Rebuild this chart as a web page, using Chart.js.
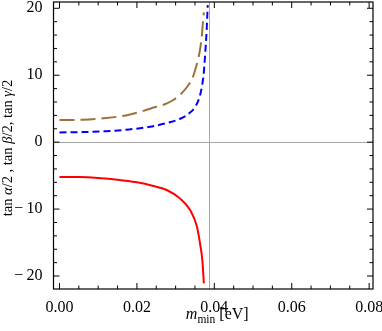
<!DOCTYPE html>
<html>
<head>
<meta charset="utf-8">
<script src="https://cdn.jsdelivr.net/npm/chart.js@4/dist/chart.umd.min.js"></script>
<style>
html,body{margin:0;padding:0;background:#fff;}
canvas{display:block;}
</style>
</head>
<body>
<canvas id="c" width="382" height="331"></canvas>
<script>
// ---- data ----
const redM   = [0, 0.005, 0.010, 0.015, 0.020, 0.024, 0.0277, 0.0311, 0.0337, 0.0355, 0.0363, 0.0369, 0.0373];
const redY   = [-5.2, -5.22, -5.35, -5.6, -6.0, -6.5, -7.15, -8.4, -10.1, -12.6, -15.1, -17.6, -21.1];

const blueM  = [0, 0.006, 0.012, 0.018, 0.0234, 0.028, 0.0312, 0.0335, 0.0351, 0.0361, 0.0368, 0.0373, 0.0377, 0.0380, 0.0383];
const blueY  = [1.45, 1.5, 1.64, 1.9, 2.3, 2.9, 3.5, 4.3, 5.3, 6.6, 8.3, 10.5, 13.7, 16.5, 20.5];

const brownM = [0, 0.006, 0.0121, 0.018, 0.0234, 0.0294, 0.0329, 0.0345, 0.0355, 0.0363, 0.0368, 0.0371, 0.0373];
const brownY = [3.3, 3.35, 3.6, 4.1, 5.0, 6.3, 8.2, 9.8, 11.7, 13.8, 16.0, 18.2, 19.4];

const asymptoteM = 0.0385;   // vertical grey reference line
const xTicks = [0, 0.02, 0.04, 0.06, 0.08];
const yTicks = [-20, -10, 0, 10, 20];

const X_MIN = -0.00155, X_MAX = 0.081;
const Y_MIN = -21.94, Y_MAX = 20.94;
const SERIF = "'Liberation Serif', 'Times New Roman', serif";

function pts(xs, ys){ return xs.map((x,i)=>({x:x, y:ys[i]})); }

// grey reference lines behind the curves
const refLines = {
  id:'refLines',
  beforeDatasetsDraw(chart){
    const {ctx, chartArea:a, scales:{x, y}} = chart;
    ctx.save();
    ctx.strokeStyle = '#a8a8a8';
    ctx.lineWidth = 1;
    const y0 = Math.round(y.getPixelForValue(0)) + 0.5;
    ctx.beginPath(); ctx.moveTo(a.left, y0); ctx.lineTo(a.right, y0); ctx.stroke();
    const xv = Math.round(x.getPixelForValue(asymptoteM)) + 0.5;
    ctx.beginPath(); ctx.moveTo(xv, a.top); ctx.lineTo(xv, a.bottom); ctx.stroke();
    ctx.restore();
  }
};

function richText(ctx, parts, x, y){
  let w = 0;
  parts.forEach(p=>{ ctx.font = p[1]; w += ctx.measureText(p[0]).width; });
  let cx = x - w/2;
  parts.forEach(p=>{
    ctx.font = p[1];
    ctx.fillText(p[0], cx, y + (p[2]||0));
    cx += ctx.measureText(p[0]).width;
  });
}

// frame with inward ticks on all sides + axis titles
const frame = {
  id:'frame',
  afterDraw(chart){
    const {ctx, chartArea:a, scales:{x, y}} = chart;
    ctx.save();
    ctx.strokeStyle = '#000';
    ctx.lineWidth = 1.2;
    ctx.strokeRect(a.left, a.top, a.right - a.left, a.bottom - a.top);
    ctx.lineWidth = 1;
    const xMinor = 0.005, yMinor = 2;
    for (let i = Math.ceil(X_MIN / xMinor); i * xMinor <= X_MAX + 1e-12; i++) {
      const px = x.getPixelForValue(i * xMinor);
      const len = (i % 4 === 0) ? 6 : 3.5;
      ctx.beginPath();
      ctx.moveTo(px, a.bottom); ctx.lineTo(px, a.bottom - len);
      ctx.moveTo(px, a.top); ctx.lineTo(px, a.top + len);
      ctx.stroke();
    }
    for (let i = Math.ceil(Y_MIN / yMinor); i * yMinor <= Y_MAX + 1e-12; i++) {
      const py = y.getPixelForValue(i * yMinor);
      const len = (i % 5 === 0) ? 6 : 3.5;
      ctx.beginPath();
      ctx.moveTo(a.left, py); ctx.lineTo(a.left + len, py);
      ctx.moveTo(a.right, py); ctx.lineTo(a.right - len, py);
      ctx.stroke();
    }
    // axis titles
    ctx.fillStyle = '#000';
    ctx.textBaseline = 'alphabetic';
    ctx.textAlign = 'left';
    const N = '16px ' + SERIF, I = 'italic 16px ' + SERIF, S = '11.5px ' + SERIF;
    richText(ctx, [['m', I, 0], ['min', S, 3.5], [' [eV]', N, 0]], (a.left + a.right)/2 + 4, 319);
    ctx.translate(11.5, 148);
    ctx.rotate(-Math.PI/2);
    const YN = '14.5px ' + SERIF, YI = 'italic 14.5px ' + SERIF;
    richText(ctx, [['tan ', YN], ['\u03B1', YI], ['/2 , tan ', YN], ['\u03B2', YI], ['/2, tan ', YN], ['\u03B3', YI], ['/2', YN]], 0, 0);
    ctx.restore();
  }
};

new Chart(document.getElementById('c'), {
  type: 'scatter',
  data: {
    datasets: [
      { data: pts(brownM, brownY), showLine: true, borderColor: '#a0703c', borderWidth: 2, borderDash: [15, 6], pointRadius: 0, cubicInterpolationMode: 'monotone', fill: false },
      { data: pts(blueM, blueY), showLine: true, borderColor: '#0000ff', borderWidth: 2, borderDash: [7, 4], pointRadius: 0, cubicInterpolationMode: 'monotone', fill: false },
      { data: pts(redM, redY), showLine: true, borderColor: '#ff0000', borderWidth: 2, pointRadius: 0, cubicInterpolationMode: 'monotone', fill: false }
    ]
  },
  options: {
    responsive: false,
    animation: false,
    events: [],
    layout: { padding: { top: 2, right: 9, left: 0, bottom: 0 } },
    plugins: { legend: { display: false }, tooltip: { enabled: false } },
    scales: {
      x: {
        type: 'linear', min: X_MIN, max: X_MAX,
        afterFit: s => { s.height = 42; s.paddingLeft = 0; s.paddingRight = 0; },
        afterBuildTicks: s => { s.ticks = xTicks.map(v => ({ value: v })); },
        grid: { display: false }, border: { display: false },
        ticks: { padding: 1, color: '#000', autoSkip: false, maxRotation: 0,
                 font: { family: SERIF, size: 16 },
                 callback: v => v.toFixed(2) }
      },
      y: {
        type: 'linear', min: Y_MIN, max: Y_MAX,
        afterFit: s => { s.width = 53.5; s.paddingTop = 0; s.paddingBottom = 0; },
        afterBuildTicks: s => { s.ticks = yTicks.map(v => ({ value: v })); },
        grid: { display: false }, border: { display: false },
        ticks: { padding: 3, color: '#000', autoSkip: false,
                 font: { family: SERIF, size: 16 },
                 callback: v => v === 0 ? '0' : (v < 0 ? '\u2212\u2009' + Math.abs(v) : String(v)) }
      }
    }
  },
  plugins: [refLines, frame]
});
</script>
</body>
</html>
